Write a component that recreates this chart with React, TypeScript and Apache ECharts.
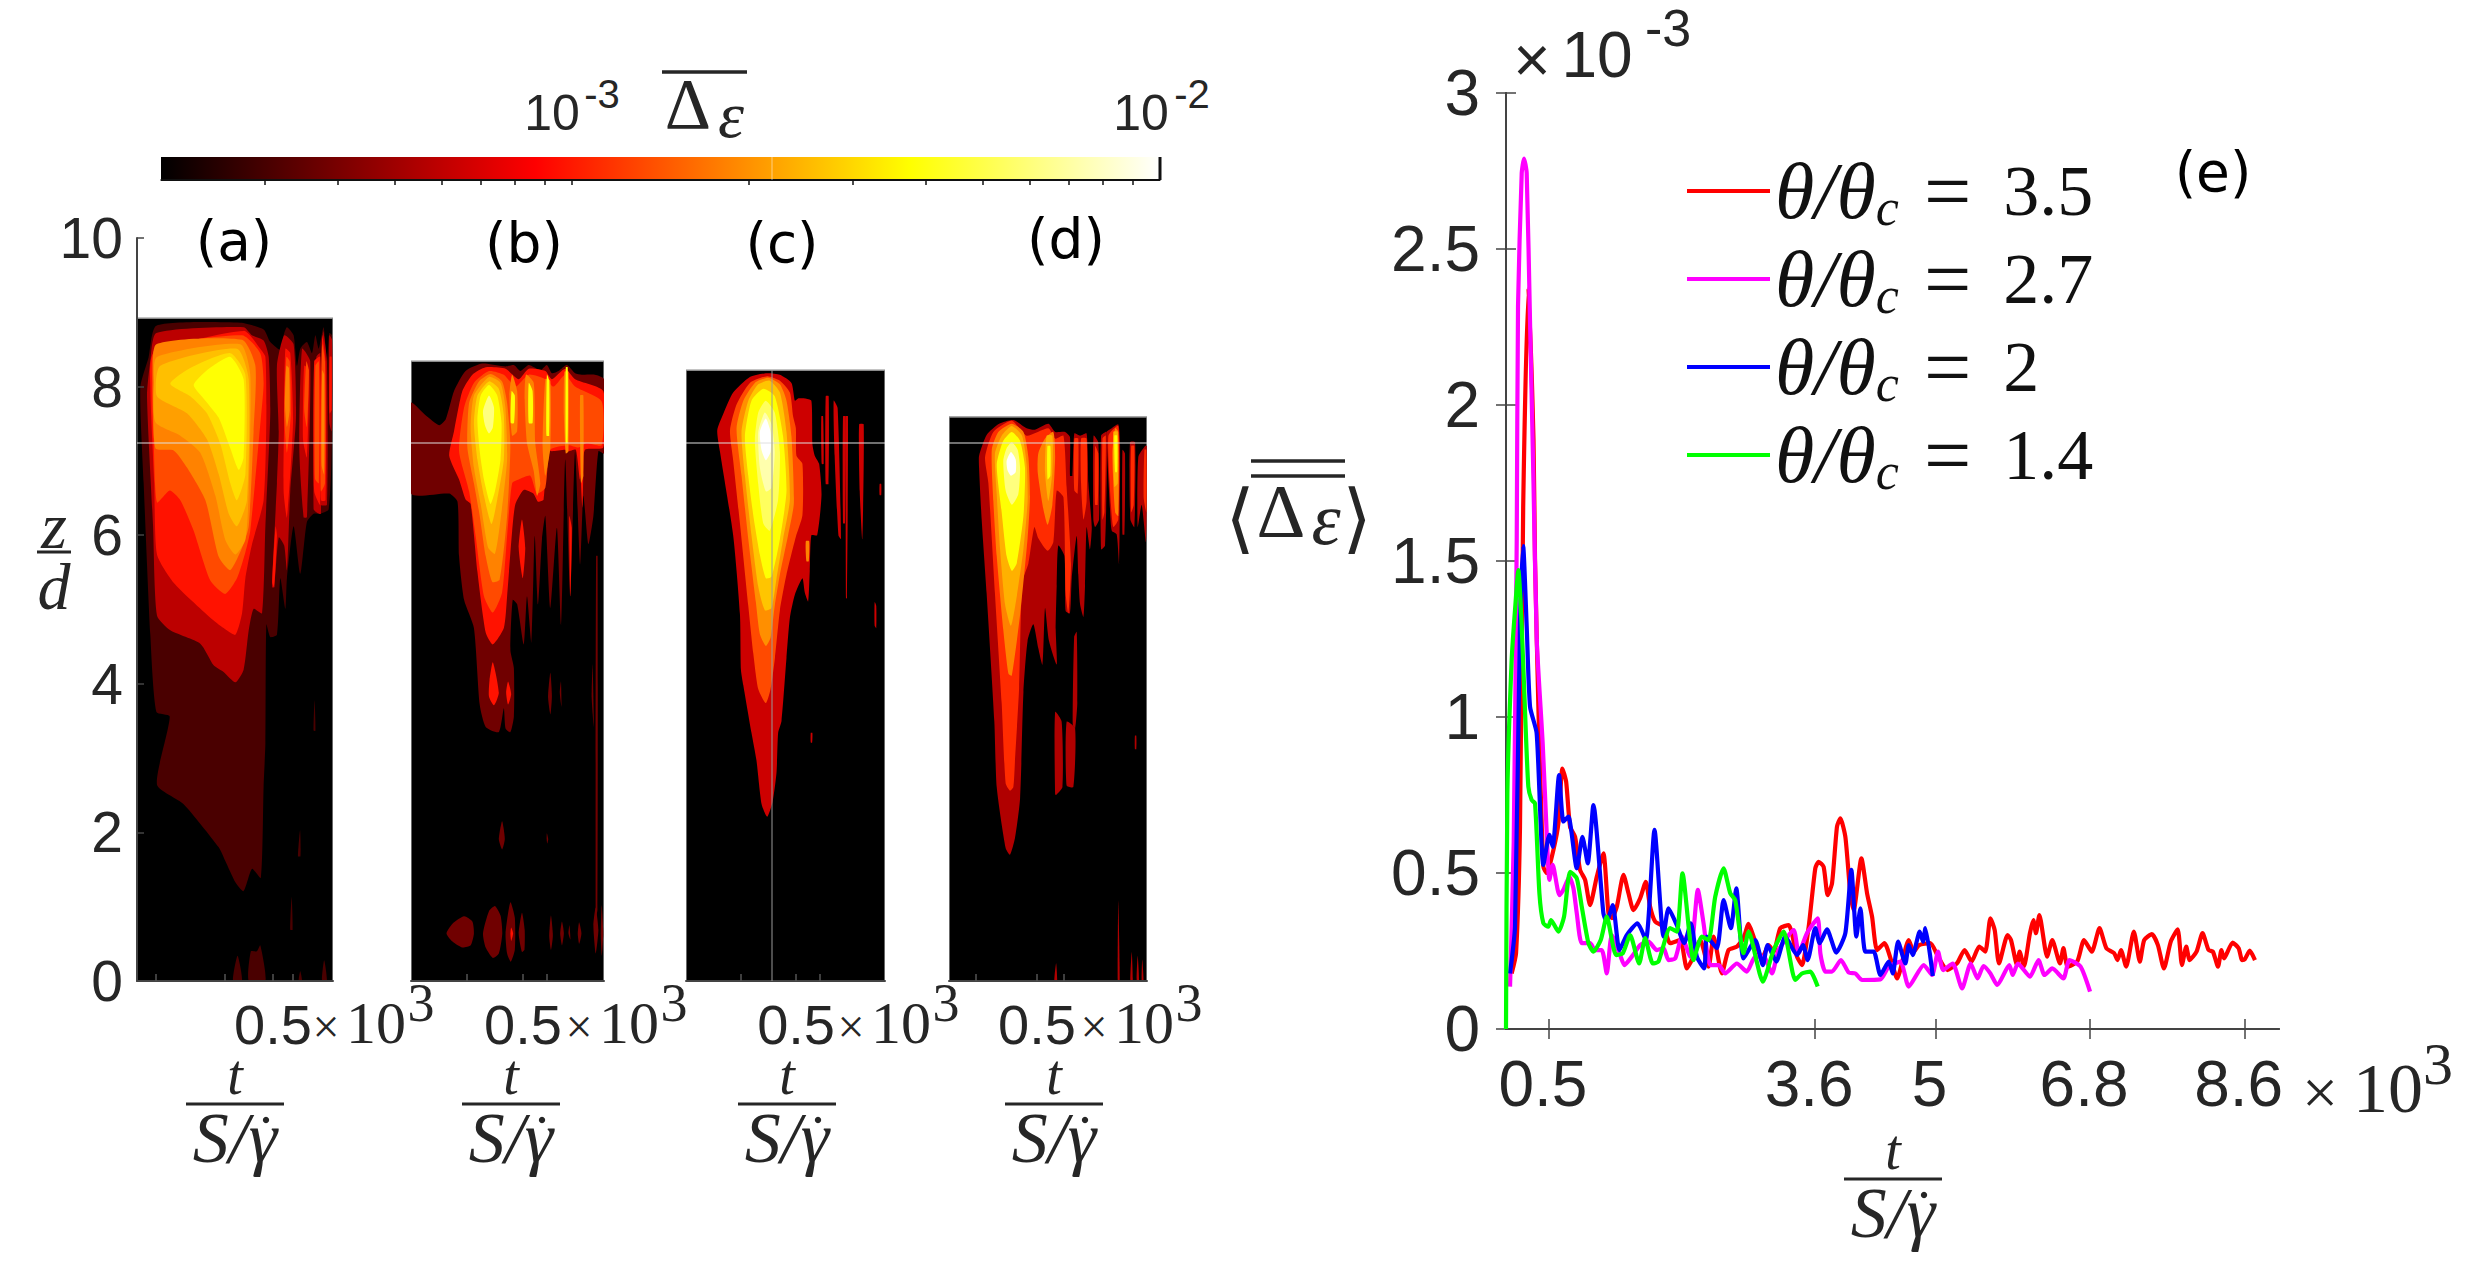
import React, { useEffect, useRef } from 'react';
import * as echarts from 'echarts';

const W = 2488;
const H = 1265;
const SANS = '"Liberation Sans"';
const SERIF = '"Liberation Serif"';
const INK = '#262626';

// colour bar: log scale in delta-epsilon
const cMin = 2e-4;
const cMax = 1e-2;
const colorTicks = [3e-4, 4e-4, 5e-4, 6e-4, 7e-4, 8e-4, 9e-4, 1e-3, 2e-3, 3e-3, 4e-3, 5e-3, 6e-3, 7e-3, 8e-3, 9e-3];

// panels (a)-(d): x is percent of the panel's time span, y is z/d
const zTicks = [0, 2, 4, 6, 8, 10];
const panelTops = [8.92, 8.34, 8.22, 7.59];
const panelTicks = [[9.7, 44.9, 69.4, 79.6], [29, 58, 70.5], [27.6, 55.3, 67.3], [13.6, 44.4, 58.1]];
const panelHalf = [69.4, 58, 55.3, 44.4];

// contours: [level, x,z, x,z, ...], painted from the lowest level up
type Contour = [number, number[]];

const panelA: Contour[] = [
  [3.07e-4, [9.9,8.82, 52.7,8.86, 64.6,8.77, 68,8.6, 74,8.48, 74.8,8.69, 76.5,8.8, 79.9,8.69, 81.6,8.28, 83.3,8.51, 86.7,8.6, 89.3,8.45, 91,8.69, 92.7,8.51, 95.2,8.8, 96.9,8.34, 98.1,8.72, 99.5,8.69, 99.5,7.29, 97.8,6.35, 93.5,6.29, 90.1,6.29, 86.7,6.18, 83.3,5.48, 79.9,6.12, 76.5,5.42, 75.7,5.01, 73.1,5.42, 71.4,4.66, 68,4.63, 66,4.8, 65.5,3.2, 64.6,2.62, 63.2,1.39, 58.7,1.51, 54.4,1.21, 50.2,1.33, 45,1.62, 41.7,1.8, 23.8,2.38, 10.2,2.64, 16.7,3.56, 9.9,3.62, 6.8,4.66, 3.4,6.7, 1.7,7.99, 5.9,8.39]],
  [3.07e-4, [49,0, 51.3,.34, 53.6,0]],
  [3.07e-4, [57,0, 58.1,.4, 61.2,.4, 62.9,.48, 65.5,0]],
  [3.07e-4, [82.5,0, 83.3,.13, 84.2,0]],
  [3.07e-4, [94.4,0, 95.5,.28, 96.9,0]],
  [3.07e-4, [82.1,1.68, 83.2,2.03, 83.4,1.68]],
  [3.07e-4, [90.6,3.78, 91.1,3.37, 90.1,3.37]],
  [3.07e-4, [78.9,1.13, 79.4,.69, 78.2,.69]],
  [5.9e-4, [9.9,8.72, 54.4,8.8, 58.7,8.69, 64.6,8.62, 67.2,8.4, 68,7.64, 65.5,6.12, 63.8,4.95, 59.5,5.01, 57,4.72, 54.4,4.19, 50.2,4.02, 44.2,4.16, 39.1,4.25, 32.3,4.54, 17,4.72, 10.2,4.92, 8.2,6.12, 5.1,7.87, 6.8,8.34]],
  [5.9e-4, [75.1,8.69, 79.9,8.57, 81.1,7.58, 78.2,6.59, 76.5,5.53, 75.1,5.86, 72.3,5.97, 70,5.3, 68.9,5.3, 71.4,6.7, 72.3,7.4, 71.4,8.28]],
  [5.9e-4, [84.2,8.51, 88.4,8.34, 86.7,6.24, 85,6.24, 82.8,7.17]],
  [5.9e-4, [91.5,8.4, 93.5,8.45, 93.8,6.29, 90.1,6.35]],
  [5.9e-4, [94.9,8.74, 96.9,8.34, 96.9,6.41, 93.8,6.41]],
  [5.9e-4, [98.1,8.69, 99.5,8.63, 99.3,7.4, 98.1,7.52]],
  [9.6e-4, [8.5,8.45, 54.4,8.75, 62.9,8.51, 65.5,8.4, 66,7.58, 64.6,6.47, 58.7,5.88, 55.3,5.42, 53.6,4.95, 50.2,4.66, 44.2,4.75, 37.4,4.89, 18.7,5.36, 10.2,5.74, 8.8,6.7, 6.8,7.99]],
  [9.6e-4, [75.7,8.51, 78.2,8.45, 79.6,7.52, 76.5,6.24, 74.8,6.59, 75.1,7.58]],
  [9.6e-4, [85.3,8.28, 87.6,8.22, 86.7,7.05, 84.7,7.29]],
  [9.6e-4, [90.4,8.34, 93.5,8.4, 93.5,6.41, 90.4,6.59]],
  [9.6e-4, [94.4,8.69, 96.2,8.34, 96.2,6.47, 93.8,6.47]],
  [9.6e-4, [98.3,8.4, 99.3,8.4, 99.3,7.69, 98.3,7.64]],
  [9.6e-4, [71.4,6, 70,5.3, 69,5.36, 70.7,6.12]],
  [1.33e-3, [9.4,8.51, 53.6,8.69, 62.9,8.45, 64.6,8.05, 63.2,7.58, 57.8,6.06, 55.3,5.77, 51,5.42, 45,5.21, 37.4,5.39, 28.9,6.06, 22.1,6.47, 16.7,6.6, 10.2,6.44, 8.5,7.29, 7.7,8.04]],
  [1.33e-3, [76.2,8.4, 77.9,8.34, 78.5,7.64, 76.5,7.11, 75.1,7.64]],
  [1.33e-3, [94.4,8.57, 95.9,8.34, 95.9,6.7, 93.8,6.59]],
  [1.33e-3, [91,8.28, 92.8,8.34, 92.8,6.7, 90.8,6.76]],
  [1.33e-3, [86.4,8.34, 87.7,8.22, 86.7,7.46, 85.3,7.69]],
  [1.83e-3, [9.9,8.57, 53.6,8.63, 60.4,8.28, 59.5,7.4, 57,6.12, 53.6,5.83, 47.6,5.53, 41.7,5.71, 34.9,6.47, 25.5,6.91, 18.7,7.14, 9.4,7.17, 8.5,8.04]],
  [1.83e-3, [76.2,8.28, 77.5,8.25, 77.9,7.69, 76.5,7.46, 75.5,7.75]],
  [1.83e-3, [94.5,8.22, 95.5,8.16, 95.5,6.82, 94.2,6.94]],
  [2.17e-3, [10.2,8.4, 52.7,8.57, 57.8,8.16, 57,6.59, 55.3,5.94, 50.2,5.74, 45,5.94, 40,6.53, 32.3,7.11, 22.1,7.34, 9.4,7.52, 8.5,8.04]],
  [2.6e-3, [11.9,8.28, 51,8.51, 57,8.1, 56.1,6.47, 51,6.12, 46.8,6.29, 41.7,6.82, 35.7,7.29, 25.5,7.64, 10.2,7.87]],
  [3.1e-3, [17,8.04, 27.2,8.25, 47.6,8.45, 55.3,8.16, 55.3,6.82, 51,6.47, 47.6,6.7, 42.5,7.23, 35.7,7.64, 27.2,7.87]],
  [3.8e-3, [28.9,8.02, 35.7,8.22, 47.6,8.4, 54.4,8.1, 54.4,7.05, 51.9,6.88, 47.6,7.17, 41.7,7.58, 34.9,7.81]],
];

const panelB: Contour[] = [
  [3.8e-4, [0,7.78, 7.7,7.61, 14.6,7.48, 18,7.56, 22.3,7.94, 28.3,8.21, 36.9,8.31, 49,8.27, 53.3,8.29, 56.7,8.21, 61,8.29, 67.1,8.22, 70.4,8.29, 73,8.18, 76.5,8.21, 80.7,8.29, 85,8.18, 88.5,8.16, 95.3,8.16, 100,8.1, 100,7.1, 97.1,7.13, 94.5,6.26, 91.9,5.88, 89.3,6.53, 87.6,5.61, 85,7.13, 82.5,5.18, 79.9,7.02, 77.8,4.8, 75.6,6.1, 72.2,5.02, 69.6,6.26, 67.9,5.96, 65.8,5.07, 64.1,5.99, 62.4,4.56, 60.1,5.18, 58.4,4.53, 55,5.07, 52.7,5.13, 51.5,4.45, 53.3,4.21, 53.3,3.56, 51.5,3.35, 49,3.4, 48.1,3.67, 45.5,3.35, 38.7,3.42, 35.6,3.72, 32.6,4.75, 27.5,5.13, 24.9,5.72, 24.1,6.45, 19.8,6.56, 0,6.56]],
  [3.8e-4, [18.4,.64, 21.5,.77, 27.5,.87, 31.8,.8, 32.6,.64, 30.9,.48, 26.6,.45, 21.5,.53]],
  [3.8e-4, [37.3,.64, 40.4,.94, 43.5,1.01, 46.4,.88, 47.3,.64, 45.5,.37, 42.4,.31, 38.7,.45]],
  [3.8e-4, [49,.64, 51.5,1.06, 53.8,.85, 53.8,.42, 51.7,.26, 49.8,.37]],
  [3.8e-4, [55.8,.64, 57.5,.92, 58.9,.69, 58.8,.42, 57.5,.39]],
  [3.8e-4, [45.5,1.91, 47.2,2.15, 48.6,1.91, 47.2,1.77]],
  [3.8e-4, [70.3,1.91, 70.4,1.99, 71.1,1.91, 70.6,1.85]],
  [3.8e-4, [71.6,.61, 72.5,.88, 73.5,.61, 72.5,.42]],
  [3.8e-4, [77.3,.64, 78.2,.8, 79.2,.64, 78.2,.48]],
  [3.8e-4, [81.6,.64, 82.1,.75, 82.6,.56]],
  [3.8e-4, [86.4,.64, 87.1,.79, 88.3,.64, 87.1,.5]],
  [3.8e-4, [94.5,.75, 95.7,.99, 97.1,.69, 95.7,.37]],
  [3.8e-4, [98.3,.64, 98.8,1.02, 99.6,.64, 98.8,.34]],
  [3.8e-4, [95.9,5.72, 96.7,5.72, 96.6,.96, 95.7,.85]],
  [3.8e-4, [71,3.83, 72.2,4.15, 73,3.83, 72.2,3.59]],
  [3.8e-4, [77.1,3.88, 77.7,4.03, 78,3.69]],
  [3.8e-4, [93.6,3.83, 94.1,4.26, 94.7,3.42]],
  [9.6e-4, [19.8,7.07, 22.3,7.4, 26.6,7.94, 31.8,8.16, 38.7,8.26, 49,8.24, 55.8,8.1, 61,8.24, 69.6,8.21, 73,8.1, 79.9,8.24, 85,8.1, 99.6,7.94, 99.6,7.18, 90.2,7.15, 87.6,6.75, 85.4,7.15, 81.6,7.13, 79.9,7.15, 73,7.13, 70.4,7.13, 68.7,6.48, 65.8,6.45, 63.4,6.56, 58.4,6.61, 54.1,6.42, 52.4,6.05, 49.8,5.18, 48.1,4.75, 42.4,4.53, 38.7,4.69, 34.4,5.51, 30.9,6.42, 28.3,6.48, 24.9,6.75]],
  [9.6e-4, [40.7,4.05, 42.4,4.29, 45.5,3.88, 43,3.71, 40.4,3.83]],
  [9.6e-4, [49.3,3.88, 50.3,4.03, 51.9,3.86, 50.3,3.72]],
  [9.6e-4, [51.5,.64, 51.9,.72, 52.9,.64, 51.9,.54]],
  [9.6e-4, [55.8,5.83, 57.5,6.21, 59.2,5.83, 57.9,5.42]],
  [9.6e-4, [87.6,7.13, 89.3,7.13, 88.8,6.37]],
  [9.6e-4, [82,6.26, 83.3,6.1, 82.6,5.18]],
  [1.33e-3, [24.9,7.13, 27.5,7.72, 32.6,8.05, 40.4,8.21, 48.1,8.16, 54.1,8, 61,8.16, 69.6,8.1, 73.9,8, 79.9,8.16, 85,8, 98.8,7.8, 98.8,7.21, 91,7.24, 86.8,7.18, 81.6,7.21, 72.2,7.15, 69.6,6.64, 65.2,6.56, 61.8,6.8, 55.8,6.75, 52.4,6.7, 49.8,5.99, 47.2,5.23, 42.4,4.96, 37.8,5.18, 33.5,5.99, 30.1,6.59]],
  [1.83e-3, [29.2,7.18, 30.1,7.78, 35.2,8.07, 41.2,8.17, 47.2,8.07, 49.8,7.78, 51.5,7.21, 49.8,6.26, 45.9,5.4, 42.1,5.37, 38.7,5.72, 35.6,6.26, 32.6,6.7]],
  [1.83e-3, [52.4,8.16, 55,7.94, 55,7.4, 52.4,7.34, 51,7.88]],
  [1.83e-3, [59.6,8.16, 63.6,8.05, 64.4,7.24, 67,6.7, 65.3,6.53, 63.6,6.86, 60.1,7.24, 58.9,7.83]],
  [1.83e-3, [69.6,8.1, 72.2,8.08, 72.2,7.18, 69.6,6.8, 68.2,7.18]],
  [1.83e-3, [79.5,8.2, 81.6,8.2, 81.6,7.13, 80.2,7.1, 79.2,7.61]],
  [1.83e-3, [87.6,7.88, 89.3,7.88, 89.3,6.8, 88.1,6.7]],
  [2.27e-3, [30.9,7.45, 32.6,7.88, 40.4,8.13, 46.4,8.05, 48.9,7.72, 49.8,7.02, 46.4,6.21, 43.5,5.75, 40,5.83, 36.1,6.42, 32.6,6.91]],
  [2.9e-3, [32.6,7.51, 34.4,7.88, 40.4,8.07, 45.5,7.97, 48.1,7.61, 48.1,7.02, 44.7,6.48, 41.7,6.15, 37.8,6.53, 34.4,7.02]],
  [3.8e-3, [34.4,7.56, 36.1,7.88, 40.4,8.02, 44.7,7.88, 46.9,7.51, 46.4,7.02, 43.5,6.59, 41.2,6.42, 37.8,6.75, 35.6,7.13]],
  [3.8e-3, [52.1,7.94, 53.8,7.88, 53.4,7.51, 51.7,7.51]],
  [3.8e-3, [61,8.05, 63,7.94, 63,7.51, 61,7.51]],
  [3.8e-3, [70.4,8.16, 71.6,8.08, 71.6,7.34, 70.2,7.34]],
  [3.8e-3, [80.2,8.26, 81.2,8.26, 81.2,7.24, 80.2,7.24]],
  [6.1e-3, [37.3,7.67, 40.4,7.88, 43,7.72, 42.4,7.45, 40.4,7.37, 38.3,7.48]],
];

const panelC: Contour[] = [
  [6.5e-4, [15.7,7.41, 18.7,7.63, 23.7,7.92, 32.1,8.13, 40.5,8.18, 47.2,8.16, 53,8.05, 54.7,7.81, 56.3,7.84, 59.7,7.84, 63,7.81, 63.5,7.23, 64.7,7.07, 66.9,6.96, 68.1,6.54, 65.9,6, 63,6, 62.2,5.52, 61.4,5.11, 59.7,5.23, 58.5,5.42, 54.7,5.2, 52.2,4.89, 50.5,4.35, 48,3.5, 46.3,3.34, 45.5,2.81, 43.5,2.41, 40.8,2.21, 38,2.38, 35.4,2.97, 32.9,3.34, 28.8,3.98, 27.6,4.19, 27.1,4.94, 23.7,6, 17.1,7.12]],
  [6.5e-4, [68,7.6, 68.9,7.6, 69.2,6.96, 68.2,6.96]],
  [6.5e-4, [70.2,7.87, 71.7,7.87, 71.6,6.69, 70.2,6.69]],
  [6.5e-4, [74.2,7.81, 76.2,7.71, 77.9,5.95, 76.6,6, 74.7,7.07]],
  [6.5e-4, [78.9,7.6, 80.3,7.6, 79.9,6.16, 78.9,6.16]],
  [6.5e-4, [80.3,7.6, 81.4,7.6, 80.9,5.15, 80.4,5.15]],
  [6.5e-4, [87,7.49, 89.3,7.49, 88.6,5.95, 87.3,6.59]],
  [6.5e-4, [94.8,5.1, 95.6,5.05, 95.6,4.75, 94.8,4.78]],
  [6.5e-4, [62.7,3.34, 63.5,3.34, 63.4,3.21, 62.7,3.21]],
  [6.5e-4, [97.3,6.69, 98.1,6.69, 98.1,6.54, 97.3,6.54]],
  [1.33e-3, [22.1,7.41, 25.4,7.76, 32.1,8.05, 40.8,8.14, 47.2,8.08, 52.2,7.92, 53.8,7.6, 55.2,7.44, 55.5,7.07, 58.5,6.96, 58.5,6.27, 55.2,5.98, 50.5,5.47, 47.2,4.99, 44.7,4.35, 42.5,3.93, 40.1,3.74, 36.3,3.93, 33.8,4.41, 31.3,5.05, 27.1,6.16, 23.7,7.01]],
  [1.83e-3, [60.2,5.92, 61.9,5.92, 61.7,5.65, 60.5,5.65]],
  [1.98e-3, [25.4,7.44, 28.8,7.81, 34.6,8.05, 41.3,8.12, 47.2,8.03, 50.5,7.81, 53,7.33, 54.2,6.43, 51.3,6, 47.2,5.47, 44.6,5.05, 42.5,4.62, 40.1,4.51, 37.1,4.67, 35.1,5.1, 31.3,5.95, 27.9,6.8]],
  [2.7e-3, [27.9,7.39, 31.3,7.81, 36.3,8.03, 42.1,8.08, 47.2,7.92, 50.5,7.39, 52.2,6.48, 48.8,5.95, 45.5,5.42, 43,5.02, 39.6,4.99, 36.3,5.31, 32.9,6, 29.6,6.8]],
  [3.8e-3, [29.6,7.33, 32.9,7.81, 38.8,7.97, 44.6,7.87, 48.8,7.33, 50.5,6.59, 47.2,5.95, 43,5.44, 40.1,5.42, 37.1,5.74, 33.8,6.27, 31.3,6.8]],
  [5.4e-3, [34.6,7.28, 36.3,7.65, 40.1,7.81, 44.6,7.65, 47.2,7.12, 46.3,6.48, 42.1,6.06, 38.8,6.16, 36.3,6.69]],
  [7.3e-3, [36.3,7.39, 39.6,7.65, 43,7.49, 44.6,7.12, 43,6.64, 40.1,6.59, 37.1,6.91]],
  [1e-2, [37.1,7.39, 40.1,7.57, 42.5,7.39, 42.5,7.12, 40.1,7.01, 37.9,7.15]],
];

const panelD: Contour[] = [
  [5.5e-4, [15.2,7.07, 19,7.35, 25.3,7.5, 32.5,7.55, 39.2,7.44, 43.4,7.42, 50.2,7.5, 53.6,7.39, 58.6,7.39, 61.1,7.32, 61.1,6.8, 62.3,6.8, 63.3,7.37, 66.2,7.34, 69.5,7.37, 70.4,6.7, 72.1,6.11, 71.2,5.81, 69.5,6.11, 68.7,5.32, 67.9,4.9, 66.2,5.07, 65.3,5.47, 64.5,5.99, 62,5.42, 61.1,4.95, 58.9,4.98, 58.3,5.72, 55.2,5.86, 54.4,5.32, 53.9,4.73, 54.4,4.26, 50.5,4.58, 48.5,5.02, 47.2,4.26, 45.1,4.48, 42.6,4.8, 39.7,4.58, 37.6,3.89, 35.9,2.46, 33.3,1.92, 30.8,1.7, 28.6,1.79, 24.1,2.61, 22.9,3.49, 19,5.22, 16.5,6.21, 15.2,6.9]],
  [5.5e-4, [53.6,3.62, 56.9,3.49, 57.3,2.61, 54.4,2.51, 53.6,2.51]],
  [5.5e-4, [59.4,3.49, 63.7,3.4, 62.8,2.61, 59.4,2.63]],
  [5.5e-4, [63.2,4.63, 64.5,4.7, 64.8,3.74, 63.7,3.4, 62.5,3.45]],
  [5.5e-4, [73,7.34, 75.4,7.25, 75.8,6.21, 73.8,6.11, 72.9,6.21]],
  [5.5e-4, [76.8,7.34, 79.7,7.39, 78.8,5.86, 76.8,5.81]],
  [5.5e-4, [79.7,7.39, 82.2,7.44, 85.5,7.49, 86.4,7.2, 85.9,5.62, 84.7,6.01, 82.2,6.06, 81.3,6.36]],
  [5.5e-4, [87.6,7.15, 88.9,7.1, 88.6,6.01, 87.6,6.01]],
  [5.5e-4, [91.4,7.25, 94,7.25, 93.6,6.11, 91.6,6.21]],
  [5.5e-4, [95.6,7.05, 99,7.2, 99.9,7.2, 99.5,5.91, 97.3,6.41, 95.3,6.11]],
  [5.5e-4, [53.2,0, 54.1,.24, 54.6,0]],
  [5.5e-4, [85.2,0, 85.5,1.08, 86.2,0]],
  [5.5e-4, [91.6,0, 92.3,.39, 92.8,0]],
  [5.5e-4, [94.8,0, 95.3,.34, 96,0]],
  [5.5e-4, [97.3,0, 97.6,.29, 98.3,0]],
  [5.5e-4, [93.9,3.3, 94.6,3.3, 94.6,3.12, 93.9,3.12]],
  [1.11e-3, [18.2,7.05, 22.4,7.39, 31.7,7.54, 39.2,7.34, 50.2,7.44, 53.6,7.3, 57.8,7.34, 59.4,6.65, 61.6,5.62, 60.3,4.95, 58.9,5.22, 57.8,6.51, 54.4,6.6, 52.7,5.91, 49.8,5.79, 45.1,5.96, 43.1,6.11, 40.1,5.62, 37,5.37, 35.4,3.94, 33.3,2.95, 32.5,2.61, 30.8,2.56, 28.6,2.66, 26.6,3.74, 23.2,5.22, 19.9,6.7]],
  [1.11e-3, [63.3,7.3, 65.3,7.3, 65,6.56, 63.3,6.6]],
  [1.11e-3, [66.7,7.3, 69.5,7.3, 69.5,6.46, 67.9,6.21, 66.7,6.7]],
  [1.11e-3, [73.8,7.2, 75.4,7.1, 75.1,6.41, 73.8,6.41]],
  [1.11e-3, [77.5,7.3, 79.2,7.34, 78.5,6.31, 77.5,6.21]],
  [1.11e-3, [80.5,7.34, 85.5,7.47, 85.5,6.21, 83,6.11, 81.8,6.41]],
  [1.11e-3, [92,7.2, 93.6,7.2, 93.3,6.41, 92,6.31]],
  [1.11e-3, [98.7,7.15, 99.7,7.15, 99.7,6.31, 98.3,6.51]],
  [1.83e-3, [21.6,7.15, 24.9,7.39, 31.7,7.5, 37.6,7.39, 40.1,7.05, 40.9,6.51, 39.7,5.96, 35.9,4.93, 31.7,4.11, 30,4.14, 27.4,4.73, 24.1,5.72, 22.4,6.46]],
  [1.83e-3, [45.1,7.1, 48.5,7.3, 52.7,7.39, 53.6,7.05, 52.2,6.41, 49.8,6.14, 47.6,6.36, 44.8,6.85]],
  [1.83e-3, [83.9,7.44, 85.5,7.39, 85.5,6.26, 83.9,6.31, 82.5,7.1]],
  [2.4e-3, [23.2,7.1, 26.6,7.34, 31.7,7.47, 36.9,7.34, 39.2,6.95, 39.7,6.46, 37.6,5.81, 34.2,5.17, 31.3,4.78, 28.3,5.07, 25.8,5.81, 24.1,6.55]],
  [2.4e-3, [49.3,7.34, 52.2,7.34, 52.2,6.85, 50.2,6.46, 48.5,6.85]],
  [2.4e-3, [83,7.39, 85.2,7.39, 85.2,6.7, 83.5,6.65]],
  [3.8e-3, [24.1,6.95, 27.4,7.27, 31.7,7.39, 35.9,7.27, 38.4,6.9, 37.6,6.26, 34.2,5.62, 31.7,5.52, 29.1,5.72, 26.6,6.31]],
  [3.8e-3, [49.7,7.2, 51.2,7.2, 51.2,6.8, 49.8,6.75]],
  [3.8e-3, [83.5,7.34, 84.9,7.34, 84.9,6.85, 83.9,6.85]],
  [6.1e-3, [27.4,7, 29.1,7.17, 31.7,7.25, 34.7,7.15, 35.9,6.9, 35,6.55, 31.7,6.41, 28.6,6.6]],
  [1e-2, [29.1,7, 31.3,7.12, 33.7,7.02, 33.7,6.85, 31.3,6.8, 29.6,6.87]],
];

const panels = [panelA, panelB, panelC, panelD];

// panel (e): t (x 10^3), mean delta-epsilon (x 10^-3)
const tTicks = [0.5, 3.6, 5, 6.8, 8.6];
const valueTicks = [0, 0.5, 1, 1.5, 2, 2.5, 3];

const red35 = [[.066,.178],[.117,.243],[.163,.649],[.2,1.67],[.26,2.375],[.32,1.89],[.338,1.503],[.38,1.0],[.435,.52],[.474,.5],[.552,.574],[.61,.659],[.657,.835],[.7,.793],[.746,.648],[.804,.616],[.862,.51],[.921,.478],[.979,.397],[1.057,.488],[1.134,.563],[1.193,.371],[1.232,.355],[1.29,.392],[1.368,.494],[1.426,.435],[1.484,.381],[1.562,.419],[1.628,.472],[1.678,.392],[1.737,.344],[1.834,.328],[1.911,.275],[2.028,.285],[2.106,.194],[2.183,.232],[2.261,.285],[2.358,.2],[2.417,.296],[2.514,.178],[2.591,.253],[2.688,.264],[2.766,.291],[2.824,.337],[2.883,.296],[2.98,.226],[3.058,.269],[3.116,.248],[3.193,.323],[3.291,.333],[3.388,.232],[3.446,.205],[3.524,.328],[3.601,.515],[3.64,.536],[3.698,.52],[3.745,.429],[3.796,.467],[3.854,.649],[3.893,.675],[3.951,.616],[4.009,.435],[4.048,.381],[4.138,.547],[4.204,.435],[4.262,.36],[4.32,.253],[4.406,.275],[4.495,.21],[4.553,.162],[4.689,.285],[4.747,.248],[4.81,.269],[4.94,.275],[5.03,.232],[5.14,.189],[5.25,.21],[5.34,.253],[5.42,.216],[5.51,.264],[5.58,.248],[5.64,.355],[5.69,.317],[5.74,.21],[5.84,.301],[5.88,.285],[5.95,.205],[5.98,.248],[6.03,.2],[6.1,.307],[6.14,.349],[6.17,.307],[6.21,.365],[6.3,.232],[6.36,.285],[6.45,.21],[6.49,.259],[6.54,.2],[6.65,.216],[6.73,.285],[6.82,.248],[6.91,.323],[6.99,.259],[7.08,.243],[7.12,.221],[7.16,.253],[7.22,.2],[7.31,.312],[7.38,.216],[7.43,.285],[7.52,.304],[7.59,.269],[7.66,.194],[7.74,.28],[7.82,.319],[7.87,.205],[7.92,.264],[7.96,.221],[8.04,.248],[8.11,.307],[8.18,.253],[8.23,.248],[8.29,.2],[8.33,.253],[8.36,.226],[8.46,.277],[8.53,.259],[8.57,.221],[8.6,.223],[8.66,.251],[8.72,.221]];

const magenta27 = [[.047,.136],[.09,.6],[.125,1.567],[.14,2.317],[.183,2.743],[.21,2.79],[.241,2.743],[.28,2.263],[.318,1.782],[.358,1.247],[.427,.916],[.474,.627],[.505,.478],[.544,.526],[.622,.429],[.668,.446],[.738,.488],[.785,.451],[.824,.371],[.882,.275],[.979,.275],[1.037,.253],[1.115,.253],[1.173,.178],[1.232,.301],[1.329,.237],[1.379,.205],[1.465,.232],[1.562,.269],[1.659,.28],[1.756,.253],[1.834,.259],[1.892,.221],[1.97,.226],[2.047,.296],[2.144,.232],[2.234,.446],[2.3,.339],[2.378,.205],[2.475,.205],[2.552,.178],[2.688,.21],[2.805,.184],[2.902,.232],[2.999,.232],[3.096,.178],[3.174,.253],[3.349,.317],[3.407,.243],[3.504,.307],[3.629,.355],[3.66,.243],[3.718,.184],[3.796,.184],[3.9,.221],[3.99,.181],[4.068,.178],[4.145,.157],[4.359,.159],[4.456,.2],[4.592,.216],[4.689,.136],[4.864,.205],[4.961,.173],[5.03,.248],[5.09,.189],[5.2,.21],[5.31,.13],[5.41,.21],[5.49,.162],[5.56,.202],[5.64,.178],[5.72,.141],[5.86,.205],[5.9,.173],[5.96,.21],[6.1,.168],[6.2,.221],[6.27,.173],[6.36,.194],[6.49,.162],[6.56,.221],[6.69,.2],[6.8,.12]];

const blue2 = [[.047,.178],[.105,.328],[.163,1.3],[.2,1.548],[.241,1.29],[.28,1.033],[.357,.948],[.435,.526],[.505,.622],[.544,.584],[.618,.814],[.668,.665],[.726,.681],[.824,.515],[.89,.616],[.952,.531],[1.018,.718],[1.134,.371],[1.173,.344],[1.243,.397],[1.321,.253],[1.406,.301],[1.531,.339],[1.628,.285],[1.729,.638],[1.834,.296],[1.892,.387],[1.989,.333],[2.075,.275],[2.152,.339],[2.222,.232],[2.308,.194],[2.339,.296],[2.455,.259],[2.533,.413],[2.618,.323],[2.681,.451],[2.766,.226],[2.902,.285],[2.991,.205],[3.046,.269],[3.147,.216],[3.252,.296],[3.388,.237],[3.458,.269],[3.512,.221],[3.601,.323],[3.652,.275],[3.737,.319],[3.846,.245],[3.951,.307],[4.021,.51],[4.079,.296],[4.126,.387],[4.184,.248],[4.281,.248],[4.359,.173],[4.456,.216],[4.503,.178],[4.565,.28],[4.65,.21],[4.689,.269],[4.736,.237],[4.817,.312],[4.856,.28],[4.883,.323],[4.969,.17]];

const green14 = [[0,0],[.016,.755],[.066,1.183],[.105,1.343],[.144,1.471],[.183,1.29],[.221,1.022],[.26,.777],[.299,.734],[.338,.723],[.389,.435],[.435,.339],[.493,.328],[.524,.349],[.61,.312],[.676,.36],[.746,.504],[.824,.483],[.882,.392],[.96,.275],[1.018,.248],[1.103,.285],[1.173,.36],[1.282,.237],[1.36,.243],[1.445,.301],[1.55,.21],[1.62,.291],[1.709,.21],[1.775,.216],[1.911,.323],[1.989,.312],[2.055,.499],[2.183,.221],[2.28,.296],[2.358,.285],[2.436,.424],[2.533,.515],[2.611,.435],[2.669,.413],[2.766,.243],[2.824,.312],[2.991,.152],[3.116,.253],[3.232,.312],[3.368,.157],[3.446,.178],[3.543,.184],[3.629,.136]];

const seriesNames = ['θ/θc = 3.5', 'θ/θc = 2.7', 'θ/θc = 2', 'θ/θc = 1.4'];
const seriesData = [red35, magenta27, blue2, green14];
const seriesColors = ['#ff0000', '#ff00ff', '#0000ff', '#00ff00'];

// MATLAB "hot" over the log colour scale
const hotAt = (f: number) => {
  const c = (v: number) => Math.round(Math.min(1, Math.max(0, v)) * 255);
  return `rgb(${c(f / 0.375)},${c((f - 0.375) / 0.375)},${c((f - 0.75) / 0.25)})`;
};
const hot = (v: number) => hotAt((Math.log10(v) - Math.log10(cMin)) / (Math.log10(cMax) - Math.log10(cMin)));

const label = (text: string, x: number, y: number, size: number, family = SANS, style = 'normal', align = 'center', fill = INK) => ({
  type: 'text',
  x,
  y,
  silent: true,
  z: 20,
  style: {
    text,
    fill,
    font: `${style} ${size}px ${family}`,
    align,
    textAlign: align,
    verticalAlign: 'middle',
    textVerticalAlign: 'middle',
  },
});

const rule = (x1: number, y1: number, x2: number, y2: number, stroke = INK, lineWidth = 3, opacity = 1) => ({
  type: 'line',
  silent: true,
  z: 20,
  shape: { x1, y1, x2, y2 },
  style: { stroke, lineWidth, opacity },
});

// t over S/gamma-dot, centred on cx; the dot over gamma is a small circle
const timeFraction = (cx: number, barY: number) => [
  label('t', cx, barY - 29, 56, SERIF, 'italic'),
  rule(cx - 49, barY, cx + 49, barY, INK, 3),
  label('S/γ', cx, barY + 34, 72, SERIF, 'italic'),
  { type: 'circle', silent: true, z: 20, shape: { cx: cx + 31, cy: barY + 16, r: 3.2 }, style: { fill: INK } },
];

const timesTen = (x: number) => [
  label('×', x + 10, 1026, 48, SERIF),
  label('10', x + 60, 1023, 60, SERIF),
  label('3', x + 105, 1003, 54, SERIF),
];

function buildOption() {
  const panelLefts = [137, 411, 686, 949];
  const panelWidths = [196, 193, 199, 198];
  const grids: any[] = panelLefts.map((left, i) => ({ left, top: 238, width: panelWidths[i], height: 743 }));
  grids.push({ left: 161, top: 157, width: 999, height: 23 });
  grids.push({ left: 1506, top: 93, width: 773, height: 936 });

  const xAxes: any[] = panelTicks.map((ticks, i) => ({
    type: 'value',
    gridIndex: i,
    min: 0,
    max: 100,
    z: 10,
    axisLine: { lineStyle: { color: '#444', width: 2 } },
    axisTick: { inside: true, length: 7, customValues: ticks, lineStyle: { color: '#555', width: 1.5 } },
    splitLine: { show: false },
    axisLabel: {
      customValues: [panelHalf[i]],
      formatter: () => '0.5',
      margin: 21,
      lineHeight: 44,
      color: INK,
      fontFamily: SANS,
      fontSize: 56,
    },
  }));
  xAxes.push({
    type: 'value',
    gridIndex: 4,
    min: Math.log10(cMin),
    max: Math.log10(cMax),
    position: 'top',
    z: 10,
    axisLine: { lineStyle: { color: '#111', width: 1.5 } },
    axisTick: { inside: true, length: 5, customValues: colorTicks.map(v => Math.log10(v)), lineStyle: { color: '#111', width: 1.5 } },
    axisLabel: { show: false },
    splitLine: { show: false },
  });
  xAxes.push({
    type: 'value',
    gridIndex: 5,
    min: 0,
    max: 9,
    axisLine: { lineStyle: { color: '#444', width: 2 } },
    axisTick: { inside: true, length: 10, customValues: tTicks, lineStyle: { color: '#444', width: 1.5 } },
    splitLine: { show: false },
    axisLabel: {
      customValues: tTicks,
      formatter: (v: number) => String(v),
      margin: 23,
      padding: [0, 12, 0, 0],
      color: INK,
      fontFamily: SANS,
      fontSize: 64,
    },
  });
  xAxes.push({
    type: 'value',
    gridIndex: 5,
    min: 0,
    max: 9,
    position: 'top',
    axisLine: { lineStyle: { color: '#444', width: 2 } },
    axisTick: { inside: true, length: 10, customValues: tTicks, lineStyle: { color: '#444', width: 1.5 } },
    splitLine: { show: false },
    axisLabel: { show: false },
  });

  const yAxes: any[] = panelTicks.map((_, i) => ({
    type: 'value',
    gridIndex: i,
    min: 0,
    max: 10,
    interval: 2,
    show: i === 0,
    z: 10,
    axisLine: { show: true, lineStyle: { color: '#444', width: 2 } },
    axisTick: { inside: true, length: 7, lineStyle: { color: '#444', width: 1.5 } },
    splitLine: { show: false },
    axisLabel: {
      margin: 14,
      color: INK,
      fontFamily: SANS,
      fontSize: 57,
      formatter: (v: number) => (zTicks.includes(v) ? String(v) : ''),
    },
  }));
  yAxes.push({ type: 'value', gridIndex: 4, min: 0, max: 1, show: false });
  yAxes.push({
    type: 'value',
    gridIndex: 5,
    min: 0,
    max: 3,
    interval: 0.5,
    axisLine: { show: true, lineStyle: { color: '#444', width: 2 } },
    axisTick: { inside: true, length: 10, lineStyle: { color: '#444', width: 1.5 } },
    splitLine: { show: false },
    axisLabel: {
      margin: 26,
      color: INK,
      fontFamily: SANS,
      fontSize: 64,
      formatter: (v: number) => (valueTicks.includes(v) ? String(v) : ''),
    },
  });
  yAxes.push({
    type: 'value',
    gridIndex: 5,
    min: 0,
    max: 3,
    interval: 0.5,
    position: 'right',
    axisLine: { show: true, lineStyle: { color: '#444', width: 2 } },
    axisTick: { inside: true, length: 10, lineStyle: { color: '#444', width: 1.5 } },
    splitLine: { show: false },
    axisLabel: { show: false },
  });

  const contourSeries = panels.map((contours, i) => {
    const top = panelTops[i];
    return {
      type: 'custom',
      xAxisIndex: i,
      yAxisIndex: i,
      silent: true,
      clip: true,
      data: [-1, ...contours.map((_, k) => k)],
      renderItem: (params: any, api: any) => {
        const k = params.dataIndex - 1;
        if (k < 0) {
          const base = [[0, 0], [100, 0], [100, top], [0, top]];
          return {
            type: 'polygon',
            shape: { points: base.map(p => api.coord(p)) },
            style: { fill: '#000', stroke: '#8a8a8a', lineWidth: 1.5 },
          };
        }
        const [level, flat] = contours[k];
        const pts: number[][] = [];
        for (let j = 0; j < flat.length; j += 2) pts.push(api.coord([flat[j], flat[j + 1]]));
        return { type: 'polygon', shape: { points: pts, smooth: 0.2 }, style: { fill: hot(level) } };
      },
    };
  });

  const barStops = Array.from({ length: 41 }, (_, i) => ({ offset: i / 40, color: hotAt(i / 40) }));
  const colorBar = {
    type: 'custom',
    xAxisIndex: 4,
    yAxisIndex: 4,
    silent: true,
    data: [0],
    renderItem: (_: any, api: any) => {
      const a = api.coord([Math.log10(cMin), 1]);
      const b = api.coord([Math.log10(cMax), 0]);
      return {
        type: 'rect',
        shape: { x: a[0], y: a[1], width: b[0] - a[0], height: b[1] - a[1] },
        style: { fill: new echarts.graphic.LinearGradient(0, 0, 1, 0, barStops) },
      };
    },
  };

  const lines = seriesNames.map((name, i) => ({
    type: 'line',
    name,
    xAxisIndex: 5,
    yAxisIndex: 5,
    data: seriesData[i],
    showSymbol: false,
    smooth: 0.2,
    lineStyle: { color: seriesColors[i], width: 4.2 },
    itemStyle: { color: seriesColors[i] },
    z: 5 + i,
  }));

  const legendRich = {
    a: { fontFamily: SERIF, fontStyle: 'italic', fontSize: 80, color: '#111', lineHeight: 80 },
    b: { fontFamily: SERIF, fontStyle: 'italic', fontSize: 52, color: '#111', lineHeight: 48, padding: [32, 0, 0, 0] },
    e: { fontFamily: SERIF, fontSize: 84, color: '#111', lineHeight: 80, padding: [0, 32, 0, 25] },
    d: { fontFamily: SERIF, fontSize: 72, color: '#111', lineHeight: 80 },
  };

  const graphic: any[] = [
    // colour bar texts
    label('10', 552, 113, 50),
    label('-3', 602, 94, 40),
    rule(662, 72, 747, 72, INK, 3.5),
    label('Δ', 688, 104, 72, SERIF),
    label('ε', 731, 114, 66, SERIF, 'italic'),
    label('10', 1141, 113, 50),
    label('-2', 1192, 94, 40),
    rule(1160, 157, 1160, 180, '#111', 3),
    rule(161, 180, 1160, 180, '#111', 2),
    // panel letters
    label('(a)', 234, 241, 55, '"DejaVu Sans"', 'normal', 'center', '#000'),
    label('(b)', 524, 243, 55, '"DejaVu Sans"', 'normal', 'center', '#000'),
    label('(c)', 782, 243, 55, '"DejaVu Sans"', 'normal', 'center', '#000'),
    label('(d)', 1066, 239, 55, '"DejaVu Sans"', 'normal', 'center', '#000'),
    label('(e)', 2213, 172, 55, '"DejaVu Sans"', 'normal', 'center', '#000'),
    // z/d
    label('z', 54, 525, 66, SERIF, 'italic'),
    rule(37, 552, 71, 552, INK, 3),
    label('d', 54, 586, 66, SERIF, 'italic'),
    // seams left in the stitched figure
    rule(137, 443, 333, 443, '#e0e0e0', 1),
    rule(411, 443, 604, 443, '#e0e0e0', 1),
    rule(686, 443, 885, 443, '#e0e0e0', 1),
    rule(949, 443, 1147, 443, '#e0e0e0', 1),
    rule(772, 370, 772, 981, '#9a9a9a', 1),
    rule(772, 157, 772, 180, '#ffffff', 1, 0.5),
    // panel (a)-(d) x labels
    ...[316, 569, 841, 1084].flatMap(timesTen),
    ...[235, 511, 787, 1054].flatMap(c => timeFraction(c, 1104)),
    // panel (e) labels
    label('×', 1532, 60, 64),
    label('10', 1597, 55, 64),
    label('-3', 1668, 28, 52),
    label('×', 2320, 1092, 64, SERIF),
    label('10', 2388, 1088, 70, SERIF),
    label('3', 2438, 1064, 60, SERIF),
    ...timeFraction(1893, 1179),
    // mean strain label
    rule(1251, 461, 1345, 461, INK, 3.5),
    rule(1251, 476, 1345, 476, INK, 3.5),
    label('⟨', 1240, 517, 76, '"DejaVu Sans"'),
    label('Δ', 1281, 511, 76, SERIF),
    label('ε', 1326, 519, 74, SERIF, 'italic'),
    label('⟩', 1357, 517, 76, '"DejaVu Sans"'),
  ];

  return {
    animation: false,
    backgroundColor: '#fff',
    grid: grids,
    xAxis: xAxes,
    yAxis: yAxes,
    series: [...contourSeries, colorBar, ...lines],
    legend: {
      show: true,
      orient: 'vertical',
      left: 1682,
      top: 144,
      data: seriesNames,
      icon: 'rect',
      itemWidth: 83,
      itemHeight: 4,
      itemGap: 4,
      selectedMode: false,
      formatter: (name: string) => `{a|θ/θ}{b|c}{e|=}{d|${name.split('= ')[1]}}`,
      textStyle: { rich: legendRich },
    },
    graphic,
  };
}

const App: React.FC = () => {
  const ref = useRef<HTMLDivElement>(null);

  useEffect(() => {
    if (!ref.current) return;
    const chart = echarts.init(ref.current, undefined, { renderer: 'svg' });
    chart.setOption(buildOption() as any);
    return () => { chart.dispose(); };
  }, []);

  return <div ref={ref} style={{ position: 'absolute', left: 0, top: 0, width: W, height: H }} />;
};

export default App;
